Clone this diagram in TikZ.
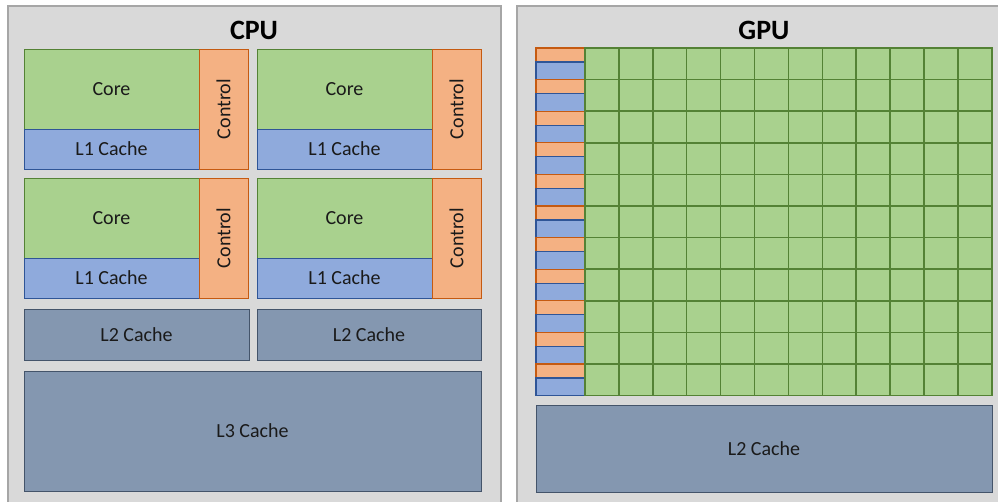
\documentclass[tikz,border=0pt]{standalone}
\usepackage{fontspec}
\setmainfont{Carlito}
\definecolor{panelfill}{HTML}{D9D9D9}
\definecolor{paneldraw}{HTML}{A6A6A6}
\definecolor{corefill}{HTML}{A9D18E}
\definecolor{coredraw}{HTML}{548235}
\definecolor{ctrlfill}{HTML}{F4B183}
\definecolor{ctrldraw}{HTML}{C55A11}
\definecolor{lonefill}{HTML}{8FAADC}
\definecolor{lonedraw}{HTML}{2F5597}
\definecolor{cachefill}{HTML}{8497B0}
\definecolor{cachedraw}{HTML}{44546A}
\definecolor{ink}{HTML}{1A1A1A}
\tikzset{
  blk/.style={draw, inner sep=0pt, outer sep=0pt, anchor=north west, line width=0.8pt,
    text=ink, font=\fontsize{20}{22}\selectfont},
  panel/.style={blk, fill=panelfill, draw=paneldraw, line width=1.6pt},
  corebox/.style={blk, fill=corefill, draw=coredraw},
  cellbox/.style={blk, fill=corefill, draw=coredraw, line width=1.5pt},
  ctrlbox/.style={blk, fill=ctrlfill, draw=ctrldraw},
  smallbox/.style={line width=1.2pt},
  lonebox/.style={blk, fill=lonefill, draw=lonedraw},
  cachebox/.style={blk, fill=cachefill, draw=cachedraw},
  title/.style={text=black, font=\bfseries\fontsize{28}{30}\selectfont}
}
\begin{document}
\begin{tikzpicture}[x=1pt,y=-1pt]
\useasboundingbox (0,0) rectangle (998,501);
\clip (0,0) rectangle (998,501);
\fill[white] (0,0) rectangle (998,501);

% panels
\node[panel, minimum width=493, minimum height=510] (cpu) at (8,6) {};
\node[panel, minimum width=500, minimum height=510] (gpu) at (517,6) {};
\node[title] (cputitle) at (254,30) {CPU};
\node[title] (gputitle) at (764,30) {GPU};

% CPU cores: green core, blue L1 below, orange control on the right
\foreach \cx/\cy/\n in {24/49/1, 257/49/2, 24/178/3, 257/178/4}{
  \node[corebox, minimum width=175, minimum height=80] (core\n) at (\cx,\cy) {Core};
  \node[lonebox, minimum width=175, minimum height=40] (lone\n) at (\cx,\cy+80) {L1 Cache};
  \node[ctrlbox, minimum width=49, minimum height=120] (ctrl\n) at (\cx+175,\cy) {\rotatebox{90}{Control}};
}

% CPU L2 and L3
\node[cachebox, minimum width=225, minimum height=51] (ltwoa) at (24,309) {L2 Cache};
\node[cachebox, minimum width=224, minimum height=51] (ltwob) at (257,309) {L2 Cache};
\node[cachebox, minimum width=457, minimum height=120] (lthree) at (24,371) {L3 Cache};

% GPU rows: control + L1 on the left, a row of cores to the right
\foreach \i in {0,...,10}{
  \pgfmathsetmacro{\ry}{48+\i*31.6}
  \node[ctrlbox, smallbox, minimum width=49, minimum height=14] (gctrl\i) at (536,\ry) {};
  \node[lonebox, smallbox, minimum width=49, minimum height=17.6] (glone\i) at (536,\ry+14) {};
  \foreach \j in {0,...,11}{
    \node[cellbox, minimum width=33.9, minimum height=31.6] (g-\i-\j) at ({585+\j*33.9},\ry) {};
  }
}

% GPU L2
\node[cachebox, minimum width=456, minimum height=87] (gltwo) at (536,405) {L2 Cache};
\end{tikzpicture}
\end{document}
